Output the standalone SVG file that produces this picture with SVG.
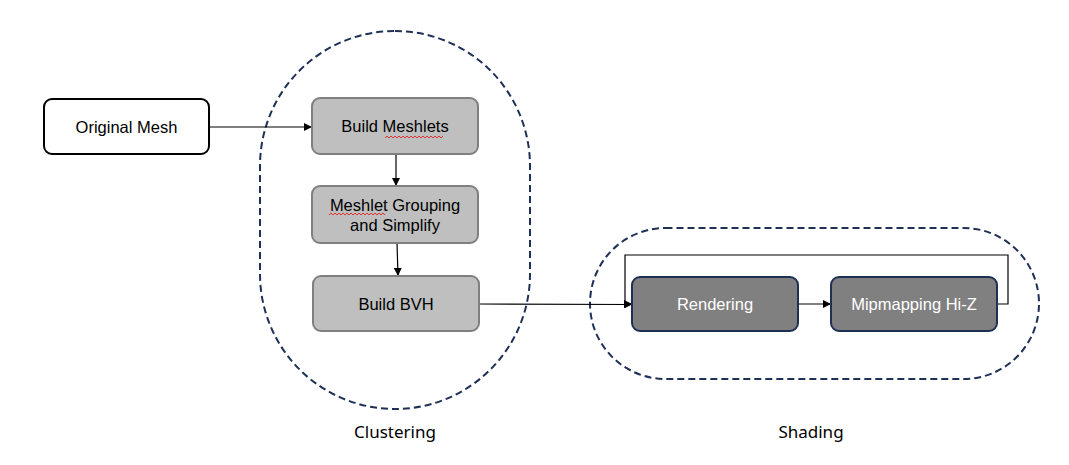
<svg xmlns="http://www.w3.org/2000/svg" width="1069" height="465" viewBox="0 0 1069 465">
<style>
.lbl{font-family:"Liberation Sans",Arial,sans-serif;font-size:16.5px;text-anchor:middle;dominant-baseline:central}
.cap{font-family:"Noto Sans","Open Sans",sans-serif;font-size:17px;text-anchor:middle;fill:#000}
.grp{fill:none;stroke:#1f3057;stroke-width:2;stroke-dasharray:7 4}
.light{fill:#bfbfbf;stroke:#7f7f7f;stroke-width:2}
.dark{fill:#808080;stroke:#1f3057;stroke-width:2}
.conn{fill:none;stroke:#000;stroke-width:1.2}
.sq{fill:none;stroke:#e02020;stroke-width:0.9}
</style>
<defs>
<marker id="arr" markerWidth="8" markerHeight="8" refX="8" refY="4" orient="auto" markerUnits="userSpaceOnUse">
<path d="M0,0 L8,4 L0,8 z" fill="#000"/>
</marker>
</defs>
<rect width="1069" height="465" fill="#fff"/>
<g id="group-clustering">
<rect class="grp" x="260" y="31" width="270" height="378" rx="135"/>
<text class="cap" x="395" y="438">Clustering</text>
</g>
<g id="group-shading">
<rect class="grp" x="590" y="228" width="449" height="151" rx="75.5"/>
<text class="cap" x="811" y="438">Shading</text>
</g>
<g id="connectors">
<line class="conn" x1="209" y1="127" x2="312" y2="127" marker-end="url(#arr)"/>
<line class="conn" x1="396" y1="154" x2="396" y2="186" marker-end="url(#arr)"/>
<line class="conn" x1="397" y1="243" x2="398" y2="276" marker-end="url(#arr)"/>
<line class="conn" x1="479" y1="304" x2="632" y2="304.5" marker-end="url(#arr)"/>
<line class="conn" x1="798" y1="304" x2="831" y2="304" marker-end="url(#arr)"/>
<polyline class="conn" points="997,304 1008,304 1008,255 625,255 625,304 632,304" stroke="#404040" marker-end="url(#arr)"/>
</g>
<g id="node-original-mesh">
<rect x="44" y="99" width="165" height="55" rx="8" fill="#fff" stroke="#000" stroke-width="2"/>
<text class="lbl" x="126.5" y="127">Original Mesh</text>
</g>
<g id="node-build-meshlets">
<rect class="light" x="312" y="98" width="166" height="56" rx="8"/>
<text class="lbl" x="395" y="126">Build Meshlets</text>
<path class="sq" d="M385,138 l2,-2 l2,2 l2,-2 l2,2 l2,-2 l2,2 l2,-2 l2,2 l2,-2 l2,2 l2,-2 l2,2 l2,-2 l2,2 l2,-2 l2,2 l2,-2 l2,2 l2,-2 l2,2 l2,-2 l2,2 l2,-2 l2,2 l2,-2 l2,2 l2,-2 l2,2 l2,-2"/>
</g>
<g id="node-meshlet-grouping">
<rect class="light" x="312" y="186" width="166" height="57" rx="8"/>
<text class="lbl" x="395" y="205">Meshlet Grouping</text>
<text class="lbl" x="395" y="225">and Simplify</text>
<path class="sq" d="M329,215 l2,-2 l2,2 l2,-2 l2,2 l2,-2 l2,2 l2,-2 l2,2 l2,-2 l2,2 l2,-2 l2,2 l2,-2 l2,2 l2,-2 l2,2 l2,-2 l2,2 l2,-2 l2,2 l2,-2 l2,2 l2,-2 l2,2 l2,-2 l2,2 l2,-2 l2,2"/>
</g>
<g id="node-build-bvh">
<rect class="light" x="313" y="276" width="166" height="55" rx="8"/>
<text class="lbl" x="396" y="304">Build BVH</text>
</g>
<g id="node-rendering">
<rect class="dark" x="632" y="277" width="166" height="54" rx="8"/>
<text class="lbl" x="715" y="304" fill="#fff">Rendering</text>
</g>
<g id="node-mipmapping">
<rect class="dark" x="831" y="277" width="166" height="54" rx="8"/>
<text class="lbl" x="914" y="304" fill="#fff">Mipmapping Hi-Z</text>
</g>
</svg>
